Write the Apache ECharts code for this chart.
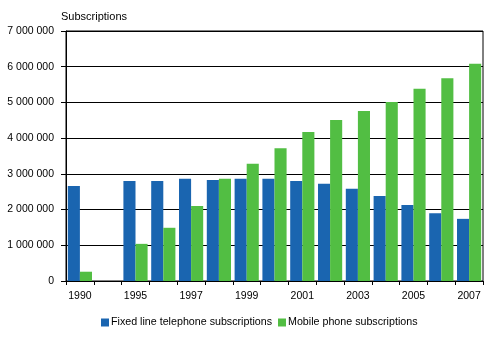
<!DOCTYPE html>
<html>
<head>
<meta charset="utf-8">
<script src="https://cdn.jsdelivr.net/npm/echarts@6/dist/echarts.min.js"></script>
<style>html,body{margin:0;padding:0;background:#fff}#c{width:495px;height:338px}</style>
</head>
<body>
<div id="c"></div>
<script>
var categories = ['1990', '', '1995', '1996', '1997', '1998', '1999', '2000', '2001', '2002', '2003', '2004', '2005', '2006', '2007'];
var fixedLine = [2660000, null, 2800000, 2800000, 2860000, 2830000, 2860000, 2860000, 2800000, 2720000, 2580000, 2380000, 2130000, 1900000, 1740000];
var mobile = [260000, null, 1040000, 1490000, 2100000, 2860000, 3280000, 3720000, 4170000, 4510000, 4760000, 5010000, 5380000, 5680000, 6080000];
var seriesNames = ['Fixed line telephone subscriptions', 'Mobile phone subscriptions'];
var yTicks = { min: 0, max: 7000000, interval: 1000000 };

var font = 'Liberation Sans, Arial, sans-serif';
var chart = echarts.init(document.getElementById('c'), null, { renderer: 'canvas' });
chart.setOption({
  animation: false,
  backgroundColor: '#fff',
  title: {
    text: 'Subscriptions', left: 61, top: 11, padding: 0,
    textStyle: { fontFamily: font, fontSize: 11, fontWeight: 'normal', color: '#000' }
  },
  legend: {
    bottom: 10, left: 101, padding: 0, itemWidth: 8, itemHeight: 8, itemGap: 6, icon: 'rect',
    textStyle: { fontFamily: font, fontSize: 10.7, color: '#000', padding: [0, 0, 0, -3] },
    data: seriesNames
  },
  grid: { left: 66, right: 12, top: 31, bottom: 57, show: true, borderColor: '#000', borderWidth: 1 },
  xAxis: {
    type: 'category', data: categories,
    axisLine: { lineStyle: { color: '#000', width: 1 } },
    axisTick: { show: true, interval: 0, length: 4, lineStyle: { color: '#000' } },
    axisLabel: { interval: 1, color: '#000', fontFamily: font, fontSize: 10.5, margin: 10 }
  },
  yAxis: {
    type: 'value', min: yTicks.min, max: yTicks.max, interval: yTicks.interval,
    axisLine: { show: true, lineStyle: { color: '#000', width: 1 } },
    axisTick: { show: true, length: 5, lineStyle: { color: '#000' } },
    splitLine: { lineStyle: { color: '#000', width: 1 } },
    axisLabel: {
      color: '#000', fontFamily: font, fontSize: 10.5, margin: 12,
      formatter: function (v) { return String(v).replace(/\B(?=(\d{3})+(?!\d))/g, ' '); }
    }
  },
  series: [
    { name: seriesNames[0], type: 'bar', data: fixedLine, barGap: '0%', barCategoryGap: '13%', itemStyle: { color: '#1a65b0' } },
    { name: seriesNames[1], type: 'bar', data: mobile, barGap: '0%', barCategoryGap: '13%', itemStyle: { color: '#52be43' } }
  ]
});
</script>
</body>
</html>
